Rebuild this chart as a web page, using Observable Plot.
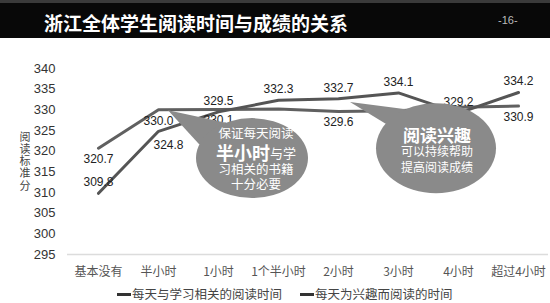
<!DOCTYPE html>
<html>
<head>
<meta charset="utf-8">
<script src="https://cdn.jsdelivr.net/npm/d3@7"></script>
<script src="https://cdn.jsdelivr.net/npm/@observablehq/plot@0.6"></script>
<style>
  html, body { margin: 0; padding: 0; background: #fff; }
  #wrap { width: 550px; height: 303px; overflow: hidden; font-family: "Liberation Sans", "Noto Sans CJK SC", sans-serif; }
  #title { box-sizing: border-box; height: 38px; background: #080808; border-top: 3px solid #3a3a3a; position: relative; }
  #title .t { position: absolute; left: 44px; top: 6px; color: #fff; font: bold 19px "Noto Sans CJK SC", sans-serif; letter-spacing: 0px; }
  #title .p { position: absolute; left: 498px; top: 11px; color: #bbb; font: 11px "Liberation Sans", sans-serif; }
  #legend { height: 18px; position: relative; font: 12.5px "Noto Sans CJK SC", sans-serif; color: #444; }
  #legend .item { position: absolute; top: 0; line-height: 18px; white-space: nowrap; }
  #legend .sw { display: inline-block; width: 14px; height: 3px; background: #333; vertical-align: middle; margin-right: 1px; position: relative; top: -1px; }
</style>
</head>
<body>
<div id="wrap">
  <div id="title"><span class="t"></span><span class="p"></span></div>
  <div id="chart"></div>
  <div id="legend"></div>
</div>
<script>
const titleText = "浙江全体学生阅读时间与成绩的关系";
const pageText = "-16-";
const categories = ["基本没有", "半小时", "1小时", "1个半小时", "2小时", "3小时", "4小时", "超过4小时"];
const seriesNames = ["每天与学习相关的阅读时间", "每天为兴趣而阅读的时间"];
const studyValues = [320.7, 330.0, 330.1, 330.2, 329.6, 329.8, 330.6, 330.9];
const interestValues = [309.8, 324.8, 329.5, 332.3, 332.7, 334.1, 329.2, 334.2];
const studyLabeled = [true, true, true, false, true, false, false, true];
const interestLabeled = [true, true, true, true, true, true, true, true];
const yTicks = [295, 300, 305, 310, 315, 320, 325, 330, 335, 340];
const yLabel = "阅读标准分";
const bubble1Lines = ["保证每天阅读", "半小时", "与学", "习相关的书籍", "十分必要"];
const bubble2Lines = ["阅读兴趣", "可以持续帮助", "提高阅读成绩"];

document.querySelector("#title .t").textContent = titleText;
document.querySelector("#title .p").textContent = pageText;

const study = categories.map((c, i) => ({cat: c, value: studyValues[i], labeled: studyLabeled[i], idx: i}));
const interest = categories.map((c, i) => ({cat: c, value: interestValues[i], labeled: interestLabeled[i], idx: i}));

const studyColor = "#606060";
const interestColor = "#555555";
const fontNum = "'Liberation Sans', 'Noto Sans CJK SC', sans-serif";

const plot = Plot.plot({
  width: 550,
  height: 247,
  marginTop: 30,
  marginBottom: 31,
  marginLeft: 67,
  marginRight: 2,
  style: {fontFamily: fontNum, fontSize: "12px", color: "#333", background: "transparent"},
  x: {type: "point", domain: categories, padding: 0.5, label: null},
  y: {domain: [295, 340], label: null},
  marks: [
    Plot.ruleY([295], {stroke: "#dcdcdc", strokeWidth: 1.5}),
    Plot.axisY({ticks: yTicks, tickSize: 0, tickPadding: 12, fontSize: 13, fill: "#333", label: null}),
    Plot.axisX({tickSize: 0, tickPadding: 13, fontSize: 12, fill: "#555", fontFamily: "'Noto Sans CJK SC', sans-serif", label: null}),
    Plot.text([yLabel.split("").join("\n")], {frameAnchor: "left", dx: -48, fontSize: 11, lineHeight: 1.1, fill: "#444", fontFamily: "'Noto Sans CJK SC', sans-serif"}),
    Plot.line(study, {x: "cat", y: "value", stroke: studyColor, strokeWidth: 3}),
    Plot.line(interest, {x: "cat", y: "value", stroke: interestColor, strokeWidth: 3}),
    Plot.text(study.filter(d => d.labeled), {x: "cat", y: "value", text: d => d.value.toFixed(1), dy: 11, fontSize: 12, fill: "#222"}),
    Plot.text(interest.filter(d => d.labeled && d.idx !== 1), {x: "cat", y: "value", text: d => d.value.toFixed(1), dy: -11, fontSize: 12, fill: "#222"}),
    Plot.text(interest.filter(d => d.labeled && d.idx === 1), {x: "cat", y: "value", text: d => d.value.toFixed(1), dx: 10, dy: 14, fontSize: 12, fill: "#222"})
  ]
});
document.getElementById("chart").appendChild(plot);

// Speech-bubble annotations, positioned relative to the chart scales
const X = plot.scale("x"), Y = plot.scale("y");
const svg = d3.select(plot);
const bubbleFill = "#8a8a8a";
const tf = "'Noto Sans CJK SC', sans-serif";

function bubble(cx, cy, rx, ry, tip, a1, a2) {
  const g = svg.append("g");
  const p = a => [cx + rx * Math.cos(a * Math.PI / 180), cy + ry * Math.sin(a * Math.PI / 180)];
  const b1 = p(a1), b2 = p(a2);
  g.append("path").attr("d", `M${b1[0]},${b1[1]}L${tip[0]},${tip[1]}L${b2[0]},${b2[1]}Z`).attr("fill", bubbleFill);
  g.append("ellipse").attr("cx", cx).attr("cy", cy).attr("rx", rx).attr("ry", ry).attr("fill", bubbleFill);
  return g;
}

// Bubble 1 between "1小时" and "1个半小时"
{
  const x1 = X.apply("1小时"), x2 = X.apply("1个半小时");
  const cx = (x1 + x2) / 2 + 4, cy = Y.apply(318.2);
  const tip = [X.apply("半小时") + 10, Y.apply(329.8)];
  const g = bubble(cx, cy, 56, 40, tip, 200, 242);
  const t = (s, y, size, weight) => g.append("text").attr("x", cx + 4).attr("y", y).attr("text-anchor", "middle")
    .attr("dominant-baseline", "central").attr("fill", "#fff").attr("font-family", tf).attr("font-size", size).attr("font-weight", weight || "normal").text(s);
  t(bubble1Lines[0], cy - 26, 12.5);
  const mid = g.append("text").attr("x", cx + 4).attr("y", cy - 6).attr("text-anchor", "middle").attr("dominant-baseline", "central")
    .attr("fill", "#fff").attr("font-family", tf);
  mid.append("tspan").attr("font-size", 18).attr("font-weight", "bold").text(bubble1Lines[1]);
  mid.append("tspan").attr("font-size", 13).text(bubble1Lines[2]);
  t(bubble1Lines[3], cy + 10, 12.5);
  t(bubble1Lines[4], cy + 25, 12.5);
}

// Bubble 2 between "3小时" and "4小时"
{
  const x1 = X.apply("3小时"), x2 = X.apply("4小时");
  const cx = (x1 + x2) / 2 + 8, cy = Y.apply(320.6);
  const tip = [X.apply("2小时") + 12, Y.apply(331.8)];
  const g = bubble(cx, cy, 60, 45, tip, 213, 240);
  const t = (s, y, size, weight) => g.append("text").attr("x", cx + 1).attr("y", y).attr("text-anchor", "middle")
    .attr("dominant-baseline", "central").attr("fill", "#fff").attr("font-family", tf).attr("font-size", size).attr("font-weight", weight || "normal").text(s);
  t(bubble2Lines[0], cy - 14, 17, "bold");
  t(bubble2Lines[1], cy + 2, 12);
  t(bubble2Lines[2], cy + 18, 12);
}

// Legend
const legend = document.getElementById("legend");
const legendLeft = [117, 300];
seriesNames.forEach((name, i) => {
  const item = document.createElement("div");
  item.className = "item";
  item.style.left = legendLeft[i] + "px";
  const sw = document.createElement("span");
  sw.className = "sw";
  item.appendChild(sw);
  item.appendChild(document.createTextNode(name));
  legend.appendChild(item);
});
</script>
</body>
</html>
